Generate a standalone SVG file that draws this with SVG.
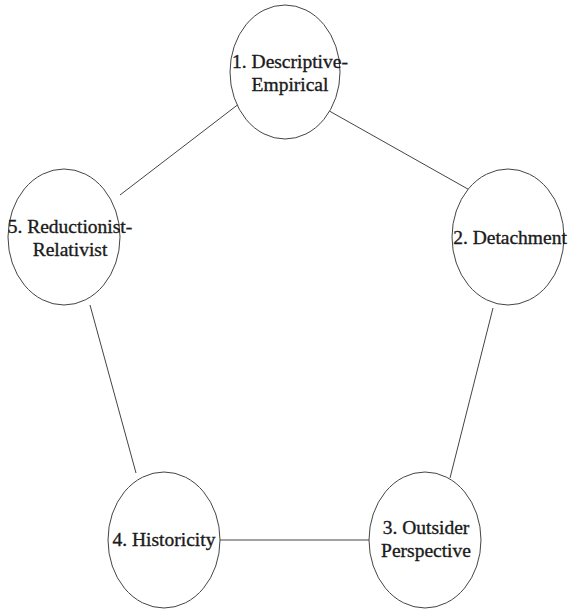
<svg xmlns="http://www.w3.org/2000/svg" width="568" height="609" viewBox="0 0 568 609">
<style>
.n{fill:#fff;stroke:#444;stroke-width:1}
.c{stroke:#444;stroke-width:1;fill:none}
text{font-family:"Liberation Serif","Times New Roman",serif;font-size:19.5px;fill:#1a1a1a;stroke:#1a1a1a;stroke-width:0.35;text-anchor:middle}
</style>
<rect width="568" height="609" fill="#fff"/>
<g id="connectors">
<line class="c" x1="324" y1="108" x2="482" y2="197"/>
<line class="c" x1="493" y1="308" x2="450" y2="478"/>
<line class="c" x1="220" y1="540" x2="369" y2="540"/>
<line class="c" x1="136" y1="473" x2="90" y2="305"/>
<line class="c" x1="120" y1="195" x2="240" y2="103"/>
</g>
<g id="n1"><ellipse class="n" cx="285" cy="72" rx="55" ry="67"/><text x="290" y="68">1. Descriptive-</text><text x="290" y="91">Empirical</text></g>
<g id="n2"><ellipse class="n" cx="508" cy="237" rx="56" ry="68"/><text x="510" y="244">2. Detachment</text></g>
<g id="n3"><ellipse class="n" cx="425" cy="540" rx="56" ry="68"/><text x="426" y="534">3. Outsider</text><text x="426" y="557">Perspective</text></g>
<g id="n4"><ellipse class="n" cx="164" cy="540" rx="56" ry="68"/><text x="164" y="546">4. Historicity</text></g>
<g id="n5"><ellipse class="n" cx="64" cy="237" rx="56" ry="68"/><text x="70" y="233">5. Reductionist-</text><text x="70" y="256">Relativist</text></g>
</svg>
